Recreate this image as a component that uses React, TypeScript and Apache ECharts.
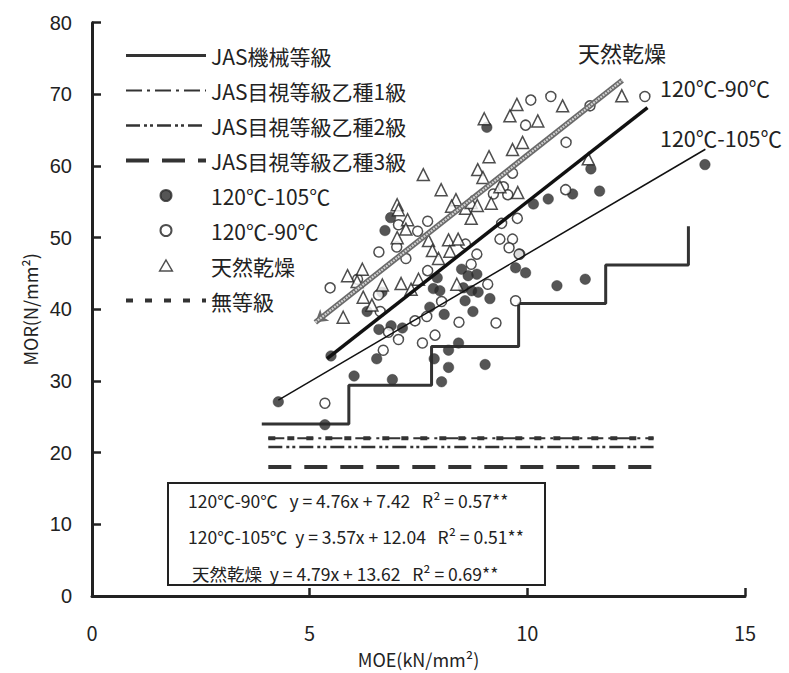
import React, { useEffect, useRef } from "react";
import * as echarts from "echarts";

// ---- data ----
const moe105 = [4.28,5.35,5.49,6.02,6.54,6.90,6.32,6.59,6.87,7.13,6.66,6.86,6.73,7.86,8.03,8.19,8.19,8.42,9.03,7.76,8.09,7.93,7.84,7.99,8.49,8.64,8.84,8.53,8.72,8.87,8.57,9.14,8.75,9.83,9.73,9.96,10.68,11.33,10.14,10.48,11.04,11.66,11.46,9.07,14.08];
const mor105 = [27.1,23.9,33.5,30.7,33.1,30.2,39.7,37.2,37.7,37.4,42.4,52.8,51.0,33.1,29.9,31.9,34.3,35.3,32.3,40.3,39.3,44.4,42.9,42.6,45.6,44.7,44.9,43.0,42.6,42.4,41.2,41.5,39.7,47.7,45.8,45.1,43.3,44.2,54.7,55.4,56.1,56.5,59.6,65.4,60.2];

const moe90 = [5.35,5.47,6.10,6.59,7.00,7.21,7.04,7.48,7.71,7.71,6.58,6.62,6.81,7.04,6.69,7.42,7.69,7.59,7.88,8.03,8.43,9.28,9.73,9.09,8.58,8.84,8.71,9.41,9.77,9.37,9.66,9.58,9.81,9.22,9.45,9.55,9.66,10.88,10.89,9.96,10.08,10.54,11.44,12.70];
const mor90 = [26.9,43.0,44.2,48.0,48.7,47.1,51.8,50.9,52.3,45.4,42.0,39.7,36.8,35.8,34.3,38.4,39.0,35.3,36.4,41.1,38.2,38.1,41.2,43.5,49.1,47.7,46.3,52.0,52.7,49.8,49.8,48.6,47.7,56.1,57.1,56.0,59.0,56.7,63.3,65.7,69.2,69.7,68.4,69.7];

const moeAir = [5.77,5.87,6.21,6.09,6.23,6.43,6.67,7.10,7.33,7.50,8.38,7.01,7.04,7.25,7.21,7.01,7.73,7.82,7.96,8.19,8.41,8.22,7.61,8.02,8.36,8.26,8.58,8.71,8.85,9.17,8.71,9.37,9.78,8.86,8.98,9.12,9.66,9.89,9.01,9.60,9.76,10.24,10.81,11.40,12.17];
const morAir = [38.9,44.7,45.6,43.9,41.7,40.6,43.4,43.6,42.8,44.2,43.5,54.6,53.9,52.5,51.2,50.0,49.6,48.2,47.1,49.7,49.8,48.1,58.8,56.7,55.3,54.4,54.1,54.9,54.5,54.8,52.7,57.1,56.3,59.5,58.4,61.3,62.3,63.3,66.6,67.0,68.6,66.3,68.4,61.0,69.8];

// JAS machine grade steps (E50..E150)
const jasMoe = [3.9, 5.9, 7.8, 9.8, 11.8, 13.7];
const jasMor = [24.0, 29.4, 34.8, 40.8, 46.2, 51.6];

// visual grade / ungraded levels
const levelNames = ["JAS目視等級乙種1級", "JAS目視等級乙種2級", "JAS目視等級乙種3級", "無等級"];
const levelValues = [22.0, 20.8, 18.0, 22.0];
const levelRange = [4.05, 12.9];

// regressions
const regNames = ["120℃-90℃", "120℃-105℃", "天然乾燥"];
const regSlope = [4.76, 3.57, 4.79];
const regIntercept = [7.42, 12.04, 13.62];
const regFrom = [5.4, 4.28, 5.13];
const regTo = [12.76, 14.09, 12.18];
const regR2 = ["0.57", "0.51", "0.69"];

const xTicks = [0, 5, 10, 15];
const yTicks = [0, 10, 20, 30, 40, 50, 60, 70, 80];

const legendOrder = [
  "JAS機械等級",
  "JAS目視等級乙種1級",
  "JAS目視等級乙種2級",
  "JAS目視等級乙種3級",
  "120℃-105℃",
  "120℃-90℃",
  "天然乾燥",
  "無等級",
];

const CJK = '"Noto Sans CJK JP", "Noto Sans", sans-serif';
const INK = "#222";

function zip(a: number[], b: number[]) {
  return a.map((v, i) => [v, b[i]]);
}
function regLine(i: number) {
  return [regFrom[i], regTo[i]].map((x) => [x, regSlope[i] * x + regIntercept[i]]);
}

export default function App() {
  const ref = useRef<HTMLDivElement>(null);
  useEffect(() => {
    if (!ref.current) return;
    const chart = echarts.init(ref.current, undefined, { renderer: "svg" });

    const lineStyles: Record<string, any> = {
      "JAS機械等級": { color: "#333", width: 3, type: "solid" },
      "JAS目視等級乙種1級": { color: "#333", width: 2, type: [16, 5, 3, 5] },
      "JAS目視等級乙種2級": { color: "#333", width: 2.5, type: [14, 4, 3, 3, 3, 4] },
      "JAS目視等級乙種3級": { color: "#333", width: 4, type: [23, 13] },
      "無等級": { color: "#333", width: 4, type: [7, 12] },
    };

    const series: any[] = [
      {
        name: "JAS機械等級",
        type: "line",
        step: "end",
        data: zip(jasMoe, jasMor),
        symbol: "none",
        itemStyle: { color: "#333" },
        lineStyle: lineStyles["JAS機械等級"],
        z: 2,
      },
      ...levelNames.map((n, i) => ({
        name: n,
        type: "line",
        data: levelRange.map((x) => [x, levelValues[i]]),
        symbol: "none",
        itemStyle: { color: "#333" },
        lineStyle: lineStyles[n],
        z: 2,
      })),
      {
        name: "120℃-105℃",
        type: "scatter",
        data: zip(moe105, mor105),
        symbol: "circle",
        symbolSize: 10.5,
        itemStyle: { color: "#2a2a2a", borderColor: "#2a2a2a", borderWidth: 0.5 },
        z: 3,
      },
      {
        name: "120℃-90℃",
        type: "scatter",
        data: zip(moe90, mor90),
        symbol: "circle",
        symbolSize: 10,
        itemStyle: { color: "#fff", borderColor: INK, borderWidth: 1.5 },
        z: 3,
      },
      {
        name: "天然乾燥",
        type: "scatter",
        data: zip(moeAir, morAir),
        symbol: "triangle",
        symbolKeepAspect: true,
        symbolSize: 12,
        itemStyle: { color: "#fff", borderColor: INK, borderWidth: 1.5 },
        z: 3,
      },
      {
        name: "reg90",
        type: "line",
        data: regLine(0),
        symbol: "none",
        lineStyle: { color: "#111", width: 3.5 },
        z: 4,
      },
      {
        name: "reg105",
        type: "line",
        data: regLine(1),
        symbol: "none",
        lineStyle: { color: "#111", width: 1.5 },
        z: 4,
      },
      {
        name: "regAir",
        type: "line",
        data: [],
        symbol: "none",
        z: 4,
        markLine: {
          silent: true,
          symbol: ["arrow", "none"],
          symbolSize: [11, 12],
          label: { show: false },
          lineStyle: { color: "#6a6a6a", width: 5.5, type: "solid" },
          data: [regLine(2).map((p) => ({ coord: p }))],
        },
      },
      {
        name: "regAirInner",
        type: "line",
        data: regLine(2),
        symbol: "none",
        lineStyle: { color: "#cfcfcf", width: 2.2, type: [2, 1] },
        z: 5,
      },
    ];

    const eqLines = regNames.map(
      (n, i) =>
        `${n === "天然乾燥" ? " " + n : n}${n === "120℃-90℃" ? "   " : "  "}y = ${regSlope[i]}x + ${regIntercept[i].toFixed(2)}   R² = ${regR2[i]}**`
    );

    const legendData = legendOrder.map((n) => {
      if (lineStyles[n]) {
        return { name: n, itemStyle: { opacity: 0 }, lineStyle: lineStyles[n] };
      }
      if (n === "天然乾燥") {
        return {
          name: n,
          icon: "path://M6,0 L12,10.4 L0,10.4 Z",
          itemStyle: { color: "#fff", borderColor: INK, borderWidth: 1.5 },
        };
      }
      return { name: n };
    });

    chart.setOption({
      animation: false,
      grid: { left: 92, right: 44, top: 22.7, bottom: 72, containLabel: false },
      xAxis: {
        type: "value",
        min: 0,
        max: 15,
        interval: 5,
        name: "MOE(kN/mm²)",
        nameLocation: "middle",
        nameGap: 54,
        nameMoveOverlap: false,
        nameTextStyle: { fontFamily: CJK, fontSize: 18, color: INK },
        axisLine: { show: true, onZero: false, lineStyle: { color: INK, width: 3 } },
        axisTick: { show: true, inside: true, length: 8, lineStyle: { color: INK, width: 2.5 } },
        axisLabel: {
          margin: 26,
          fontFamily: CJK,
          fontSize: 20,
          color: INK,
          formatter: (v: number) => (xTicks.includes(v) ? String(v) : ""),
        },
        splitLine: { show: false },
      },
      yAxis: {
        type: "value",
        min: 0,
        max: 80,
        interval: 10,
        name: "MOR(N/mm²)",
        nameLocation: "middle",
        nameGap: 53,
        nameMoveOverlap: false,
        nameRotate: 90,
        nameTextStyle: { fontFamily: CJK, fontSize: 18, color: INK },
        axisLine: { show: true, onZero: false, lineStyle: { color: INK, width: 3 } },
        axisTick: { show: true, inside: true, length: 9, lineStyle: { color: INK, width: 2.5 } },
        axisLabel: {
          margin: 20,
          fontFamily: '"Liberation Sans", Arial, sans-serif',
          fontSize: 20,
          color: INK,
          formatter: (v: number) => (yTicks.includes(v) ? String(v) : ""),
        },
        splitLine: { show: false },
      },
      legend: {
        orient: "vertical",
        left: 119,
        top: 40,
        itemWidth: 80,
        itemHeight: 11,
        itemGap: 14,
        selectedMode: false,
        symbolKeepAspect: true,
        textStyle: { fontFamily: CJK, fontSize: 21, color: INK, lineHeight: 21 },
        data: legendData,
      },
      graphic: [
        {
          type: "text",
          left: 578,
          top: 41,
          style: { text: "天然乾燥", font: `22px ${CJK}`, fill: INK },
        },
        {
          type: "text",
          left: 660,
          top: 77,
          style: { text: "120℃-90℃", font: `21.5px ${CJK}`, fill: INK },
        },
        {
          type: "text",
          left: 660,
          top: 127,
          style: { text: "120℃-105℃", font: `21.5px ${CJK}`, fill: INK },
        },
        {
          type: "rect",
          shape: { x: 168, y: 483, width: 377, height: 102 },
          style: { fill: "#fff", stroke: INK, lineWidth: 2 },
          z: 10,
        },
        ...eqLines.map((t, i) => ({
          type: "text",
          x: 188,
          y: 500 + i * 36.5,
          z: 11,
          style: { text: t, font: `17.5px ${CJK}`, fill: INK, verticalAlign: "middle" },
        })),
      ],
      series,
    });
    return () => chart.dispose();
  }, []);
  return (
    <div
      ref={ref}
      style={{ position: "fixed", left: 0, top: 0, width: 789, height: 673, background: "#fff" }}
    />
  );
}
